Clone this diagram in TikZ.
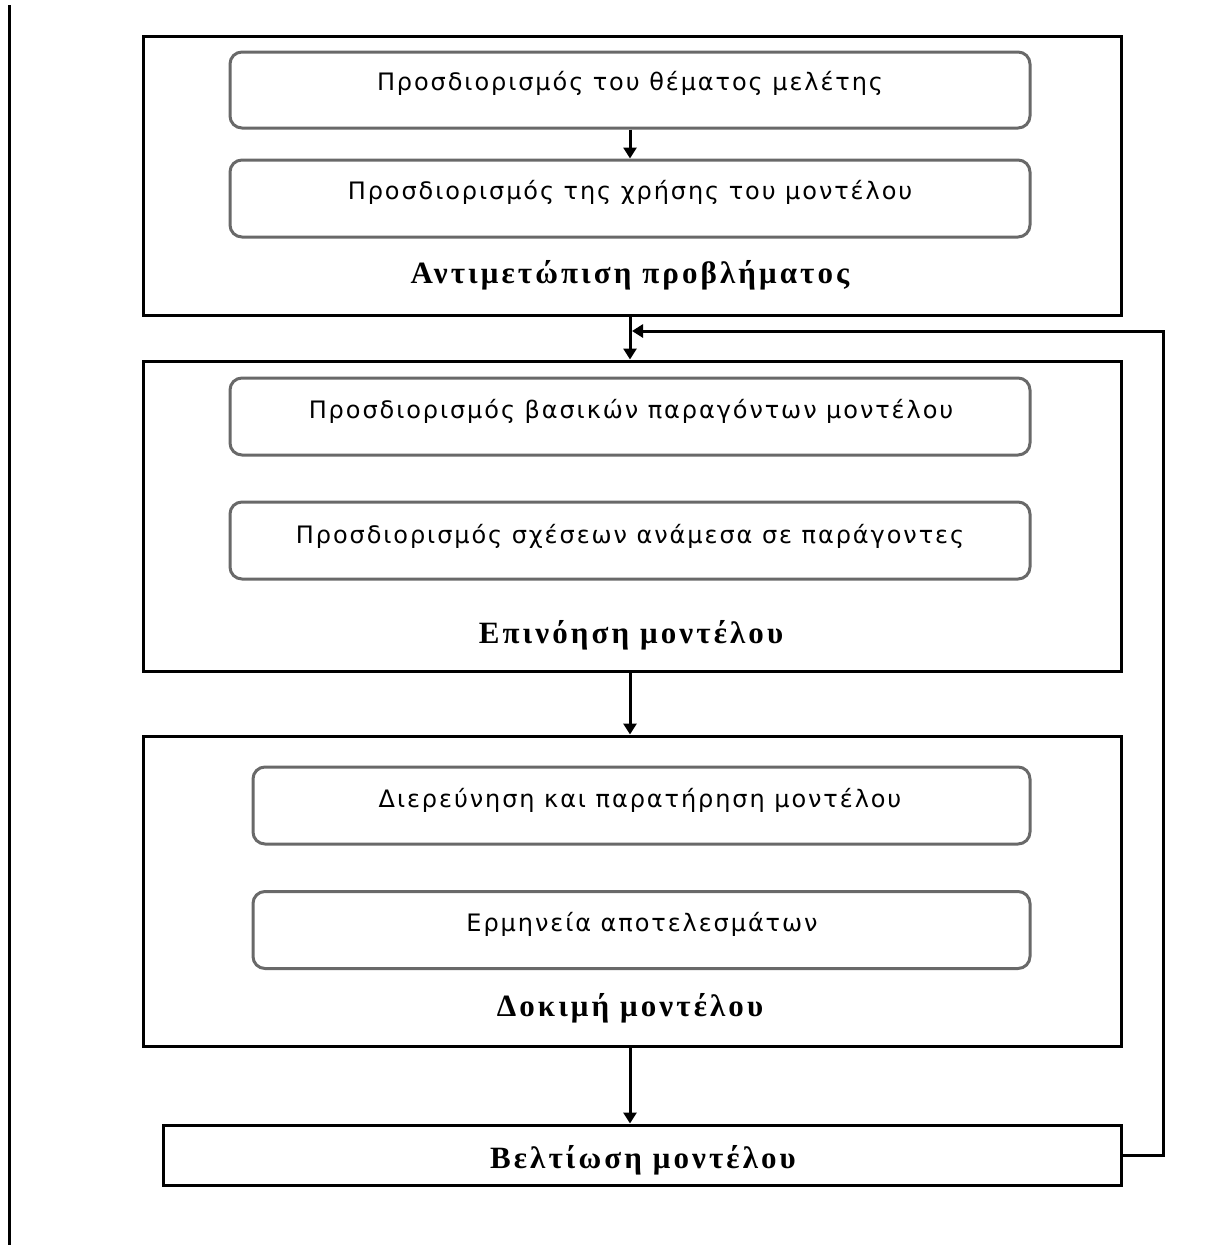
\documentclass[tikz,border=0pt]{standalone}
\usepackage{fontspec}
\setmainfont{Liberation Serif}[LetterSpace=10]
\newfontfamily\boxfont{DejaVu Sans}[LetterSpace=8]
\usetikzlibrary{arrows.meta}
\begin{document}
\begin{tikzpicture}[x=1pt,y=-1pt,
  frame/.style={draw=black,line width=3pt,inner sep=0pt},
  stepbox/.style={draw={rgb,255:red,105;green,105;blue,105},line width=3pt,rounded corners=12pt,inner sep=0pt},
  steptext/.style={anchor=base,inner sep=0pt,font=\boxfont\fontsize{24}{27}\selectfont},
  phase/.style={anchor=base,inner sep=0pt,font=\bfseries\fontsize{31}{34}\selectfont},
  flow/.style={line width=3pt,-{Triangle[length=11pt,width=13pt]}}]
\useasboundingbox (0,0) rectangle (1206,1245);
% left margin rule
\draw[line width=3pt] (9,5) -- (9,1245);

% phase frames
\node[frame,minimum width=978pt,minimum height=279pt] (p1) at (632,175.5) {};
\node[frame,minimum width=978pt,minimum height=310pt] (p2) at (632,516) {};
\node[frame,minimum width=978pt,minimum height=310pt] (p3) at (632,891) {};
\node[frame,minimum width=958pt,minimum height=60pt] (p4) at (642,1155) {};

% steps inside the frames
\node[stepbox,minimum width=800pt,minimum height=76pt] (s1) at (630,90) {};
\node[stepbox,minimum width=800pt,minimum height=77pt] (s2) at (630,198.5) {};
\node[stepbox,minimum width=800pt,minimum height=77pt] (s3) at (630,416.5) {};
\node[stepbox,minimum width=800pt,minimum height=77pt] (s4) at (630,540.5) {};
\node[stepbox,minimum width=777pt,minimum height=77pt] (s5) at (641.5,805.5) {};
\node[stepbox,minimum width=777pt,minimum height=77pt] (s6) at (641.5,930) {};

\node[steptext] (t1) at (630,90) {Προσδιορισμός του θέματος μελέτης};
\node[steptext] (t2) at (630,199) {Προσδιορισμός της χρήσης του μοντέλου};
\node[steptext] (t3) at (631,418) {Προσδιορισμός βασικών παραγόντων μοντέλου};
\node[steptext] (t4) at (630,543) {Προσδιορισμός σχέσεων ανάμεσα σε παράγοντες};
\node[steptext] (t5) at (640,807) {Διερεύνηση και παρατήρηση μοντέλου};
\node[steptext] (t6) at (642,931) {Ερμηνεία αποτελεσμάτων};

% phase titles
\node[phase] (l1) at (630,283) {Αντιμετώπιση προβλήματος};
\node[phase] (l2) at (631,643) {Επινόηση μοντέλου};
\node[phase] (l3) at (630,1016) {Δοκιμή μοντέλου};
\node[phase] (l4) at (643,1168) {Βελτίωση μοντέλου};

% forward flow
\draw[flow] (s1.south -| 630,0) -- (s2.north -| 630,0);
\draw[flow] (p1.south -| 630,0) -- (p2.north -| 630,0);
\draw[flow] (p2.south -| 630,0) -- (p3.north -| 630,0);
\draw[flow] (p3.south -| 630,0) -- (p4.north -| 630,0);

% feedback loop
\coordinate (fb) at (632,331);
\draw[line width=3pt,-{Triangle[length=11pt,width=13pt]}] (p4.east) -- (1163,1155) -- (1163,331) -- (fb);
\end{tikzpicture}
\end{document}
